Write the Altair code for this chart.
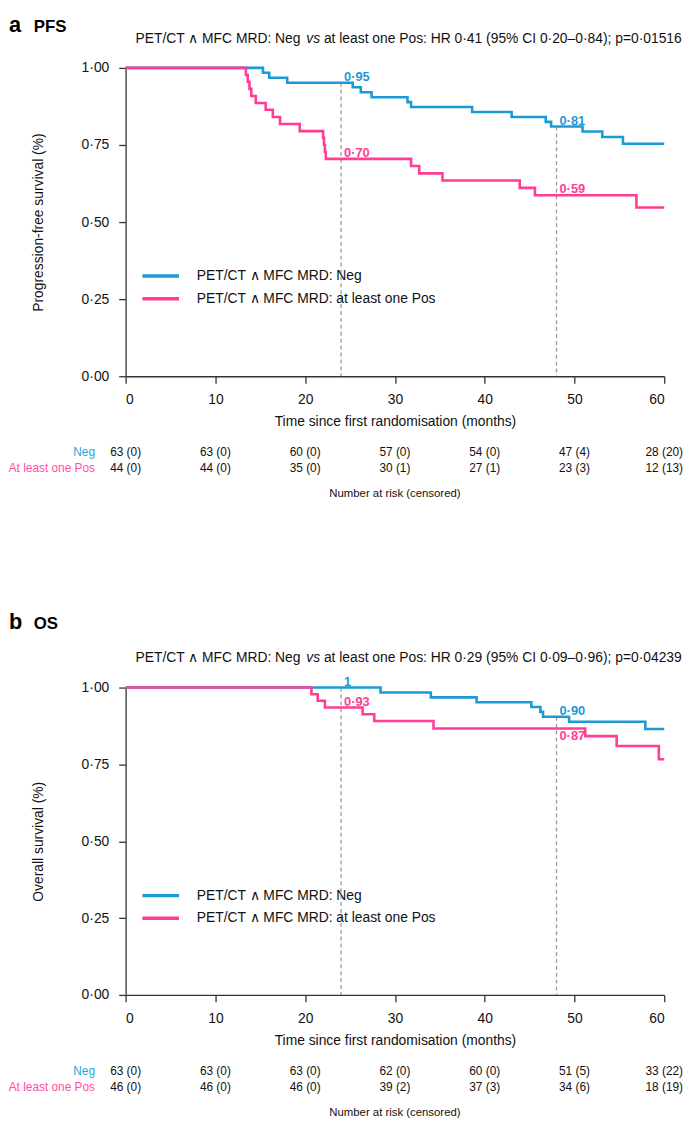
import altair as alt
import pandas as pd

FONT = "Liberation Sans"
BLUE = "#1B9AD7"
PINK = "#FF3D96"
BLUE_T = "#27A7E0"
PINK_T = "#FF4FA3"
NEG = "PET/CT \u2227 MFC MRD: Neg"
POS = "PET/CT \u2227 MFC MRD: at least one Pos"
GROUPS = [NEG, POS]

# ---------------- PFS (panel a) ----------------
pfs_neg_time = [0, 15.3, 16.0, 18.0, 25.3, 26.2, 27.4, 31.4, 31.8, 38.6, 43.0, 46.8, 47.4, 50.9, 53.1, 55.4, 60]
pfs_neg_surv = [1.0, 0.984, 0.968, 0.952, 0.937, 0.921, 0.905, 0.889, 0.873, 0.857, 0.841, 0.825, 0.810, 0.794, 0.776, 0.754, 0.754]
pfs_pos_time = [0, 13.4, 13.6, 13.8, 14.0, 14.5, 15.6, 16.4, 17.2, 19.4, 22.0, 22.1, 22.2, 22.3, 31.8, 32.7, 35.3, 43.9, 45.6, 56.9, 60]
pfs_pos_surv = [1.0, 0.977, 0.955, 0.932, 0.909, 0.886, 0.864, 0.841, 0.818, 0.795, 0.773, 0.750, 0.727, 0.705, 0.682, 0.658, 0.635, 0.611, 0.587, 0.547, 0.547]
pfs_mark_time = [24, 24, 48, 48]
pfs_mark_group = [NEG, POS, NEG, POS]
pfs_mark_text = ["0\u00b795", "0\u00b770", "0\u00b781", "0\u00b759"]
pfs_mark_place = ["above", "above", "above", "above"]
pfs_risk_neg = ["63 (0)", "63 (0)", "60 (0)", "57 (0)", "54 (0)", "47 (4)", "28 (20)"]
pfs_risk_pos = ["44 (0)", "44 (0)", "35 (0)", "30 (1)", "27 (1)", "23 (3)", "12 (13)"]
pfs_hr = "at least one Pos: HR 0\u00b741 (95% CI 0\u00b720\u20130\u00b784); p=0\u00b701516"

# ---------------- OS (panel b) ----------------
os_neg_time = [0, 28.4, 34.0, 39.1, 45.2, 46.2, 46.5, 49.4, 57.9, 60]
os_neg_surv = [1.0, 0.984, 0.968, 0.952, 0.937, 0.921, 0.905, 0.889, 0.865, 0.865]
os_pos_time = [0, 20.7, 21.4, 22.2, 26.4, 27.7, 34.3, 51.2, 54.7, 59.4, 60]
os_pos_surv = [1.0, 0.978, 0.957, 0.935, 0.913, 0.891, 0.867, 0.842, 0.810, 0.767, 0.767]
os_mark_time = [24, 24, 48, 48]
os_mark_group = [NEG, POS, NEG, POS]
os_mark_text = ["1", "0\u00b793", "0\u00b790", "0\u00b787"]
os_mark_place = ["above", "above", "above", "below"]
os_risk_neg = ["63 (0)", "63 (0)", "63 (0)", "62 (0)", "60 (0)", "51 (5)", "33 (22)"]
os_risk_pos = ["46 (0)", "46 (0)", "46 (0)", "39 (2)", "37 (3)", "34 (6)", "18 (19)"]
os_hr = "at least one Pos: HR 0\u00b729 (95% CI 0\u00b709\u20130\u00b796); p=0\u00b704239"

risk_times = [0, 10, 20, 30, 40, 50, 60]
x_ticks = [0, 10, 20, 30, 40, 50, 60]
y_ticks = [0, 0.25, 0.5, 0.75, 1.0]

# Arial-compatible advance widths (per 1000 em) for laying out the subtitle pieces
ARIAL = {'P': 667, 'E': 667, 'T': 611, '/': 278, 'C': 722, ' ': 278, '\u2227': 838,
         'M': 833, 'F': 611, 'R': 722, 'D': 722, ':': 278, 'N': 722, 'e': 556,
         'g': 556, 'v': 500, 's': 500}


def text_w(s, fs):
    return sum(ARIAL.get(c, 556) for c in s) / 1000.0 * fs


def step_value(times, surv, x):
    v = surv[0]
    for t, s in zip(times, surv):
        if t <= x:
            v = s
    return v


W = 545


def panel(letter, name, ytitle, hr_text, nt, ns, pt, ps, mtime, mgroup, mtext, mplace,
          risk_neg, risk_pos, H, letter_y, sub_y):
    curves = pd.DataFrame({
        "t": nt + pt,
        "s": ns + ps,
        "grp": [NEG] * len(nt) + [POS] * len(pt),
    })
    series = {NEG: (nt, ns), POS: (pt, ps)}

    xs = alt.Scale(domain=[0, 60], nice=False, zero=False)
    ys = alt.Scale(domain=[0, 1], nice=False)
    cs = alt.Scale(domain=GROUPS, range=[BLUE, PINK])

    xaxis = alt.Axis(values=x_ticks, format="d", title="Time since first randomisation (months)",
                     grid=False, titlePadding=8, labelFontSize=14, titleFontSize=14,
                     titleFontWeight="normal", labelFont=FONT, titleFont=FONT,
                     labelPadding=10, tickSize=7)
    yaxis = alt.Axis(values=y_ticks, labelExpr="replace(format(datum.value, '.2f'), '.', '\u00b7')",
                     title=ytitle, grid=False, titlePadding=36, labelFontSize=14, titleFontSize=14,
                     titleFontWeight="normal", labelFont=FONT, titleFont=FONT,
                     labelPadding=10, tickSize=7)

    # dashed landmark lines
    lm_t = sorted(set(mtime))
    rules_df = pd.DataFrame({
        "t": lm_t,
        "s": [max(step_value(*series[g], t) for g in GROUPS) for t in lm_t],
        "s0": [0.0] * len(lm_t),
    })
    rules = alt.Chart(rules_df).mark_rule(color="#9a9a9a", strokeDash=[4, 3], strokeWidth=1.3).encode(
        x=alt.X("t:Q", scale=xs, axis=xaxis),
        y=alt.Y("s:Q", scale=ys, axis=yaxis),
        y2="s0:Q",
    )

    lines = alt.Chart(curves).mark_line(interpolate="step-after", strokeWidth=2.6, strokeCap="butt").encode(
        x=alt.X("t:Q", scale=xs),
        y=alt.Y("s:Q", scale=ys),
        color=alt.Color("grp:N", scale=cs, legend=alt.Legend(
            orient="none", legendX=15, legendY=199, title=None, symbolType="stroke",
            symbolSize=1369, symbolStrokeWidth=3.5, labelFontSize=14, labelFont=FONT,
            labelColor="#111", labelOffset=16, labelLimit=400, padding=0, rowPadding=0,
            clipHeight=23, direction="vertical")),
    )

    marks_df = pd.DataFrame({
        "t": mtime,
        "s": [step_value(*series[g], t) for g, t in zip(mgroup, mtime)],
        "grp": mgroup,
        "txt": mtext,
        "place": mplace,
    })
    above = alt.Chart(marks_df).transform_filter(alt.datum.place == "above").mark_text(
        align="left", baseline="alphabetic", dx=3, dy=-2, fontSize=13, fontWeight="bold", font=FONT
    ).encode(x=alt.X("t:Q", scale=xs), y=alt.Y("s:Q", scale=ys), text="txt:N",
             color=alt.Color("grp:N", scale=cs, legend=None))
    below = alt.Chart(marks_df).transform_filter(alt.datum.place == "below").mark_text(
        align="left", baseline="top", dx=3, dy=2, fontSize=13, fontWeight="bold", font=FONT
    ).encode(x=alt.X("t:Q", scale=xs), y=alt.Y("s:Q", scale=ys), text="txt:N",
             color=alt.Color("grp:N", scale=cs, legend=None))

    risk_df = pd.DataFrame({
        "t": risk_times + risk_times,
        "txt": risk_neg + risk_pos,
        "row": ["Neg"] * len(risk_times) + ["Pos"] * len(risk_times),
    })
    risk_n = alt.Chart(risk_df).transform_filter(alt.datum.row == "Neg").mark_text(
        fontSize=12, font=FONT, color="#111", baseline="middle", align="center"
    ).encode(x=alt.X("t:Q", scale=xs), y=alt.value(H + 77), text="txt:N")
    risk_p = alt.Chart(risk_df).transform_filter(alt.datum.row == "Pos").mark_text(
        fontSize=12, font=FONT, color="#111", baseline="middle", align="center"
    ).encode(x=alt.X("t:Q", scale=xs), y=alt.value(H + 93), text="txt:N")

    row_lab = pd.DataFrame({"txt": ["Neg", "At least one Pos"]})
    lab_n = alt.Chart(row_lab).transform_filter(alt.datum.txt == "Neg").mark_text(
        fontSize=12, font=FONT, color=BLUE_T, align="right", baseline="middle"
    ).encode(x=alt.value(-31), y=alt.value(H + 77), text="txt:N")
    lab_p = alt.Chart(row_lab).transform_filter(alt.datum.txt != "Neg").mark_text(
        fontSize=12, font=FONT, color=PINK_T, align="right", baseline="middle"
    ).encode(x=alt.value(-31), y=alt.value(H + 93), text="txt:N")

    nar = alt.Chart(pd.DataFrame({"txt": ["Number at risk (censored)"]})).mark_text(
        fontSize=11.5, font=FONT, color="#111", baseline="middle", align="center"
    ).encode(x=alt.value(W / 2), y=alt.value(H + 119), text="txt:N")

    let = alt.Chart(pd.DataFrame({"txt": [letter]})).mark_text(
        fontSize=22, font=FONT, fontWeight="bold", color="#000", align="left", baseline="alphabetic"
    ).encode(x=alt.value(-118), y=alt.value(letter_y), text="txt:N")
    nm = alt.Chart(pd.DataFrame({"txt": [name]})).mark_text(
        fontSize=17, font=FONT, fontWeight="bold", color="#000", align="left", baseline="alphabetic"
    ).encode(x=alt.value(-93), y=alt.value(letter_y), text="txt:N")

    p1 = NEG
    x1 = 10
    x_vs = x1 + text_w(p1, 14) + text_w(" ", 14)
    x3 = x_vs + text_w("vs", 14) + text_w(" ", 14)
    sub_df = pd.DataFrame({"txt": [p1, "vs", hr_text], "piece": [1, 2, 3]})
    s1 = alt.Chart(sub_df).transform_filter(alt.datum.piece == 1).mark_text(
        fontSize=14, font=FONT, color="#111", align="left", baseline="middle"
    ).encode(x=alt.value(x1), y=alt.value(sub_y), text="txt:N")
    s2 = alt.Chart(sub_df).transform_filter(alt.datum.piece == 2).mark_text(
        fontSize=14, font=FONT, fontStyle="italic", color="#111", align="left", baseline="middle"
    ).encode(x=alt.value(x_vs), y=alt.value(sub_y), text="txt:N")
    s3 = alt.Chart(sub_df).transform_filter(alt.datum.piece == 3).mark_text(
        fontSize=14, font=FONT, color="#111", align="left", baseline="middle"
    ).encode(x=alt.value(x3), y=alt.value(sub_y), text="txt:N")

    return alt.layer(rules, lines, above, below, risk_n, risk_p, lab_n, lab_p, nar, let, nm, s1, s2, s3
                     ).properties(width=W, height=H)


pa = panel("a", "PFS", "Progression-free survival (%)", pfs_hr,
           pfs_neg_time, pfs_neg_surv, pfs_pos_time, pfs_pos_surv,
           pfs_mark_time, pfs_mark_group, pfs_mark_text, pfs_mark_place,
           pfs_risk_neg, pfs_risk_pos, 312, -36, -29)
pb = panel("b", "OS", "Overall survival (%)", os_hr,
           os_neg_time, os_neg_surv, os_pos_time, os_pos_surv,
           os_mark_time, os_mark_group, os_mark_text, os_mark_place,
           os_risk_neg, os_risk_pos, 311, -59, -30)

chart = alt.vconcat(pa, pb, spacing=113).resolve_scale(
    x="independent", y="independent", color="independent"
).resolve_legend(color="independent").properties(
    padding={"left": 0, "top": 0, "right": 0, "bottom": 0}, background="white"
).configure_view(stroke=None).configure_axis(
    labelFont=FONT, titleFont=FONT, labelFontSize=14, titleFontSize=14, titleFontWeight="normal",
    domainColor="#333", tickColor="#333", labelColor="#111", titleColor="#111",
    domainWidth=1.3, tickWidth=1.3, tickSize=7, labelPadding=10
)

chart.save("out.html", embed_options={"renderer": "svg", "actions": False})
